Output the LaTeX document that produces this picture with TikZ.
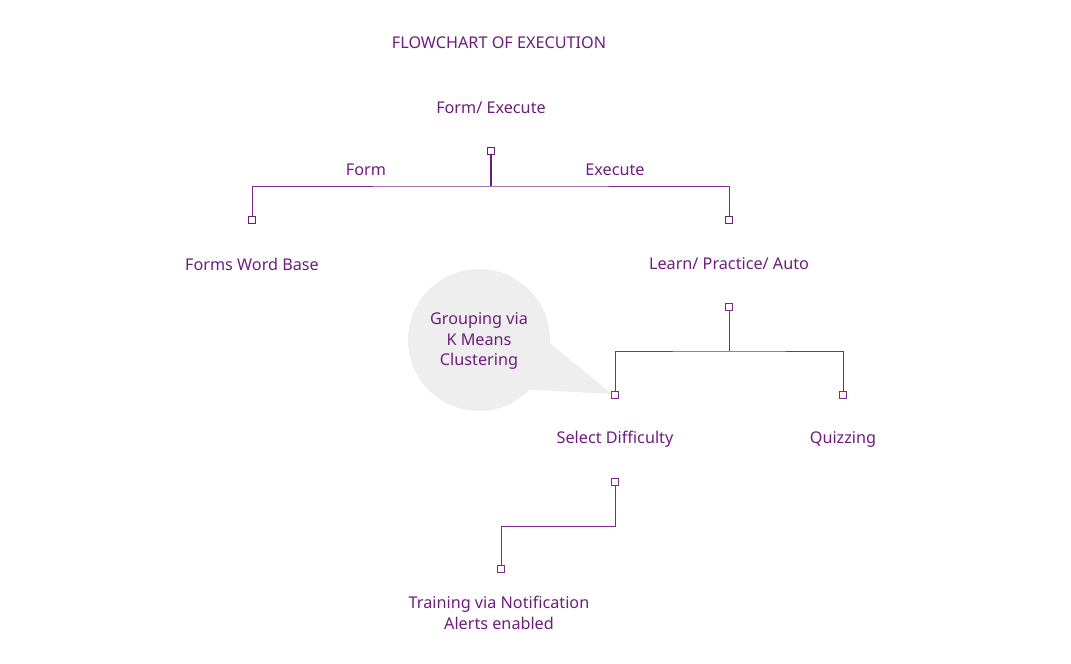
\documentclass[tikz,border=0pt]{standalone}
\usepackage{fontspec}
\setmainfont{Noto Sans}
\usetikzlibrary{calc}
\definecolor{txtc}{HTML}{6E1D7D}
\definecolor{linec}{HTML}{6A1E78}
\definecolor{linel}{HTML}{7A2A8C}
\definecolor{bubc}{HTML}{EEEEEE}
\begin{document}
\begin{tikzpicture}[x=1pt,y=-1pt,
  lbl/.style={text=txtc,font=\fontsize{16.2}{20.6}\selectfont,inner sep=0pt,align=center},
  sq/.style={draw=linec,fill=white,minimum size=6.5pt,inner sep=0pt,line width=1.4pt},
  sqt/.style={draw=linel,fill=white,minimum size=7pt,inner sep=0pt,line width=1pt},
  con/.style={draw=linec,line width=1.4pt},
  cont/.style={draw=linel,line width=1pt}]
\useasboundingbox (0,0) rectangle (1071,664);
% bubble
\node[circle,fill=bubc,minimum size=142pt,inner sep=0pt] (bub) at (479,340) {};
\coordinate (tip) at (612,394);
\fill[bubc] ($(bub.center)+(2:70)$) -- (tip) -- ($(bub.center)+(46:69)$) -- cycle;
\node[lbl] (bubt) at (479,341) {Grouping via\\K Means\\Clustering};
% texts
\node[lbl] (title) at (499,43) {FLOWCHART OF EXECUTION};
\node[lbl] (root) at (491,108) {Form/ Execute};
\node[lbl] (form) at (366,170) {Form};
\node[lbl] (exec) at (615,170) {Execute};
\node[lbl] (fwb) at (252,264) {Forms Word Base};
\node[lbl] (lpa) at (729,264) {Learn/ Practice/ Auto};
\node[lbl] (sd) at (615,439) {Select Difficulty};
\node[lbl] (qz) at (843,439) {Quizzing};
\node[lbl] (tr) at (499,613) {Training via Notification\\Alerts enabled};
% top tree
\node[sq] (s1) at (491,151) {};
\node[sq] (s2) at (252,220) {};
\node[sq] (s3) at (729,220) {};
\coordinate (j1) at (491,186);
\draw[con] (s1.south) -- (j1);
\draw[cont] (s2.north) |- (j1) -| (s3.north);
% second tree
\node[sqt] (s4) at (729,307) {};
\node[sqt] (s5) at (615,395) {};
\node[sqt] (s6) at (843,395) {};
\coordinate (j2) at (729,351);
\draw[cont] (s4.south) -- (j2);
\draw[cont] (s5.north) |- (j2) -| (s6.north);
% third
\node[sqt] (s7) at (615,482) {};
\node[sqt] (s8) at (501,569) {};
\coordinate (j3) at (501,526);
\draw[cont] (s7.south) |- (j3) -- (s8.north);
\end{tikzpicture}
\end{document}
